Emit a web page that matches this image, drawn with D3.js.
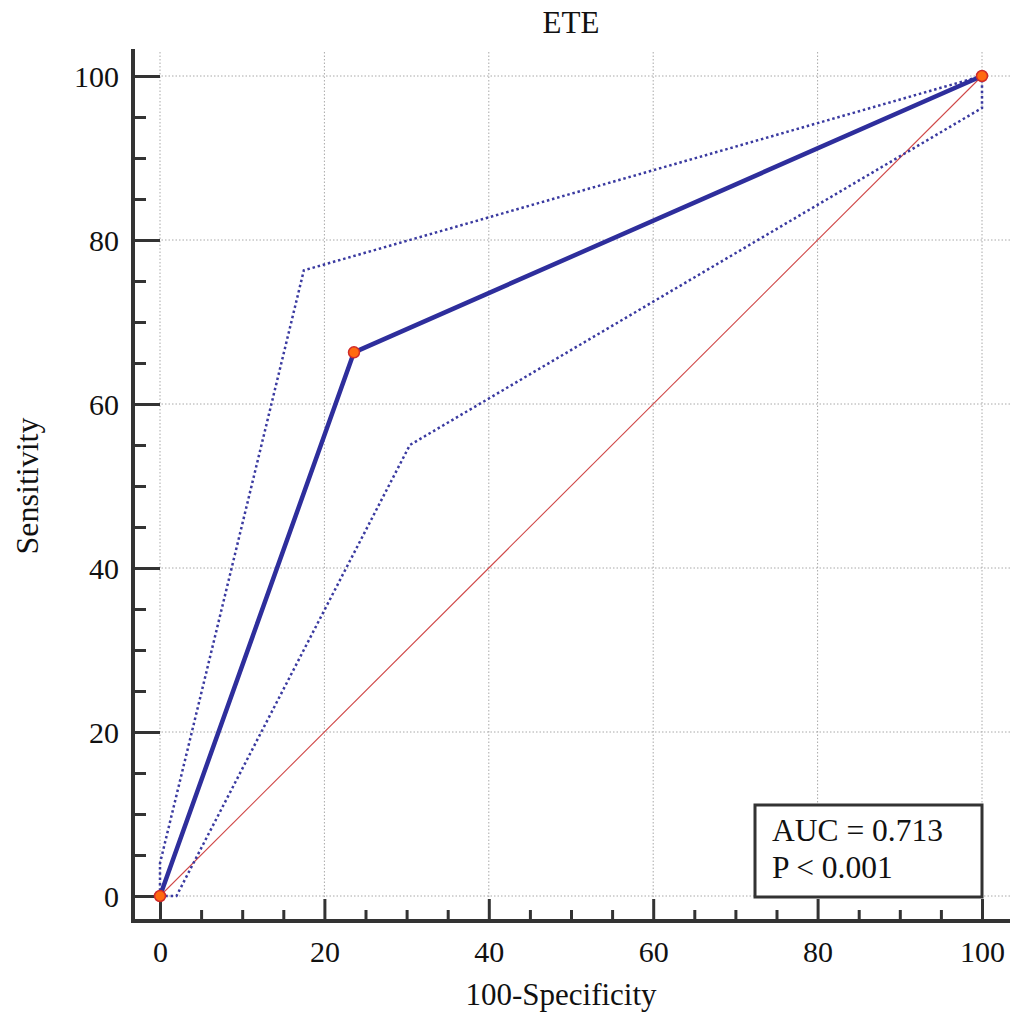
<!DOCTYPE html>
<html>
<head>
<meta charset="utf-8">
<script src="https://cdn.jsdelivr.net/npm/d3@7"></script>
<style>
    html, body { margin: 0; padding: 0; background: #fff; }
    svg { display: block; font-family: "Liberation Serif", "Times New Roman", serif; }
</style>
</head>
<body>
<svg id="chart" width="1010" height="1018"></svg>
<script>
// ROC curve values (100-Specificity, Sensitivity)
const rocX = [0, 23.6, 100];
const rocY = [0, 66.3, 100];
// 95% confidence bounds
const upperX = [0, 0, 17.5, 100];
const upperY = [0, 4, 76.3, 100];
const lowerX = [0, 2, 30.4, 100, 100];
const lowerY = [0, 0, 55.0, 96.1, 100];
// reference diagonal
const diagX = [0, 100];
const diagY = [0, 100];

const majorTicks = [0, 20, 40, 60, 80, 100];
const minorTicks = [5, 10, 15, 25, 30, 35, 45, 50, 55, 65, 70, 75, 85, 90, 95];
const chartTitle = 'ETE';
const xTitle = '100-Specificity';
const yTitle = 'Sensitivity';
const statLines = ['AUC = 0.713', 'P < 0.001'];

const svg = d3.select('#chart');
const x = d3.scaleLinear().domain([0, 100]).range([160, 982]);
const y = d3.scaleLinear().domain([0, 100]).range([896, 76]);

const axisColor = '#333';
const axisLeftX = 133, axisBottomY = 921;
const axisTop = 49, axisRight = 1010;

// grid
const grid = svg.append('g').attr('class', 'grid')
    .attr('stroke', '#a8a8a8').attr('stroke-width', 1).attr('stroke-dasharray', '1.5,2');
grid.selectAll('line.v').data(majorTicks).join('line')
    .attr('class', 'v')
    .attr('x1', d => x(d)).attr('x2', d => x(d))
    .attr('y1', 52).attr('y2', 900);
grid.selectAll('line.h').data(majorTicks).join('line')
    .attr('class', 'h')
    .attr('x1', 158).attr('x2', axisRight)
    .attr('y1', d => y(d)).attr('y2', d => y(d));

// axes
const xAxis = svg.append('g').attr('transform', `translate(0,${axisBottomY})`)
    .call(d3.axisBottom(x).tickValues(majorTicks).tickSize(-22).tickPadding(20).tickFormat(d3.format('d')));
const xMinor = svg.append('g').attr('transform', `translate(0,${axisBottomY})`)
    .call(d3.axisBottom(x).tickValues(minorTicks).tickSize(-11).tickFormat(''));
const yAxis = svg.append('g').attr('transform', `translate(${axisLeftX},0)`)
    .call(d3.axisLeft(y).tickValues(majorTicks).tickSize(-27).tickPadding(14).tickFormat(d3.format('d')));
const yMinor = svg.append('g').attr('transform', `translate(${axisLeftX},0)`)
    .call(d3.axisLeft(y).tickValues(minorTicks).tickSize(-13).tickFormat(''));

[xAxis, xMinor, yAxis, yMinor].forEach(g => {
    g.select('.domain').remove();
    g.selectAll('.tick line').attr('stroke', axisColor).attr('stroke-width', 3);
    g.selectAll('.tick text')
        .attr('fill', '#111')
        .attr('font-family', '"Liberation Serif", serif')
        .attr('font-size', 30);
});
yAxis.selectAll('.tick text').attr('dy', '0.34em');

svg.append('line')
    .attr('x1', axisLeftX).attr('x2', axisRight)
    .attr('y1', axisBottomY).attr('y2', axisBottomY)
    .attr('stroke', axisColor).attr('stroke-width', 4);
svg.append('line')
    .attr('x1', axisLeftX).attr('x2', axisLeftX)
    .attr('y1', axisTop).attr('y2', axisBottomY + 2)
    .attr('stroke', axisColor).attr('stroke-width', 4);

const line = d3.line().x(d => x(d[0])).y(d => y(d[1]));
const pairs = (xs, ys) => xs.map((v, i) => [v, ys[i]]);

// diagonal reference
svg.append('path')
    .attr('d', line(pairs(diagX, diagY)))
    .attr('fill', 'none').attr('stroke', '#d04848').attr('stroke-width', 1.1);

// confidence bounds
[pairs(upperX, upperY), pairs(lowerX, lowerY)].forEach(pts => {
    svg.append('path')
        .attr('d', line(pts))
        .attr('fill', 'none')
        .attr('stroke', '#3a3aa0')
        .attr('stroke-width', 2.5)
        .attr('stroke-dasharray', '2.5,2.8');
});

// ROC curve
const roc = pairs(rocX, rocY);
svg.append('path')
    .attr('d', line(roc))
    .attr('fill', 'none').attr('stroke', '#2e2e9c').attr('stroke-width', 4.5)
    .attr('stroke-linejoin', 'round');

svg.selectAll('circle.pt').data(roc).join('circle')
    .attr('class', 'pt')
    .attr('cx', d => x(d[0])).attr('cy', d => y(d[1]))
    .attr('r', 5.5)
    .attr('fill', '#ff6a10').attr('stroke', '#d02a2a').attr('stroke-width', 1.5);

// title and axis labels
svg.append('text')
    .attr('x', 571).attr('y', 33)
    .attr('text-anchor', 'middle').attr('font-size', 31).attr('fill', '#111')
    .text(chartTitle);
svg.append('text')
    .attr('x', x(50) - 10).attr('y', 1005)
    .attr('text-anchor', 'middle').attr('font-size', 31).attr('fill', '#111')
    .text(xTitle);
svg.append('text')
    .attr('transform', 'translate(38,486) rotate(-90)')
    .attr('text-anchor', 'middle').attr('font-size', 32).attr('fill', '#111')
    .text(yTitle);

// statistics box
const box = svg.append('g');
box.append('rect')
    .attr('x', 755).attr('y', 805)
    .attr('width', 227).attr('height', 92)
    .attr('fill', '#fff').attr('stroke', axisColor).attr('stroke-width', 3);
box.selectAll('text').data(statLines).join('text')
    .attr('x', 772).attr('y', (d, i) => 841 + i * 37)
    .attr('font-size', 31.5).attr('fill', '#111')
    .text(d => d);
</script>
</body>
</html>
